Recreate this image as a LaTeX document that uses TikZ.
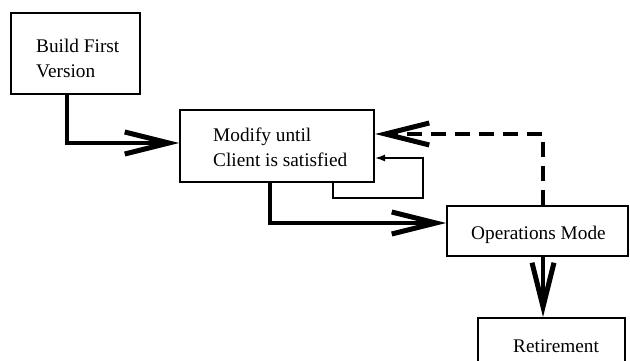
\documentclass[tikz,border=0pt]{standalone}
\usepackage{fontspec}
\setmainfont{Liberation Serif}
\usetikzlibrary{arrows.meta}
\begin{document}
\begin{tikzpicture}[x=1pt,y=-1pt,
  box/.style={draw=black,line width=2pt,rectangle,inner sep=0pt},
  lbl/.style={anchor=base west,inner sep=0pt,font=\fontsize{19.3}{25}\selectfont},
  bigarrow/.style={line width=4pt,-{Straight Barb[length=44pt,width=22pt,line width=5pt]}},
  smallarrow/.style={line width=1.5pt,-{Latex[length=10pt,width=7pt]}},
  dasharrow/.style={line width=4pt,dash pattern=on 15pt off 9pt,-{Straight Barb[length=44pt,width=22pt,line width=5pt]}}]
\useasboundingbox (0,0) rectangle (630,361);
\fill[white] (0,0) rectangle (630,361);
% boxes
\node[box,minimum width=129pt,minimum height=81pt] (build) at (75.5,53.5) {};
\node[box,minimum width=194pt,minimum height=72pt] (modify) at (277,146) {};
\node[box,minimum width=181pt,minimum height=50pt] (ops) at (537.5,231) {};
\node[box,minimum width=147pt,minimum height=48pt] (retire) at (551.5,342) {};
% texts
\node[lbl] (b1) at (36,53) {Build First};
\node[lbl] (b2) at (36,78) {Version};
\node[lbl] (m1) at (213,142) {Modify until};
\node[lbl] (m2) at (213,167) {Client is satisfied};
\node[lbl] (o1) at (471,239) {Operations Mode};
\node[lbl] (r1) at (513,352) {Retirement};
% connectors
\draw[bigarrow] ([xshift=-8.5pt]build.south) |- ([yshift=3pt]modify.west);
\draw[bigarrow] ([xshift=-7pt]modify.south) |- ([yshift=8pt]ops.west);
\draw[smallarrow] ([xshift=56pt]modify.south) |- (423,198) |- ([yshift=-12pt]modify.east);
\draw[dasharrow] ([xshift=5.5pt]ops.north) |- ([yshift=12pt]modify.east);
\draw[bigarrow] ([xshift=5.5pt]ops.south) -- ([xshift=-8.5pt]retire.north);
\end{tikzpicture}
\end{document}
